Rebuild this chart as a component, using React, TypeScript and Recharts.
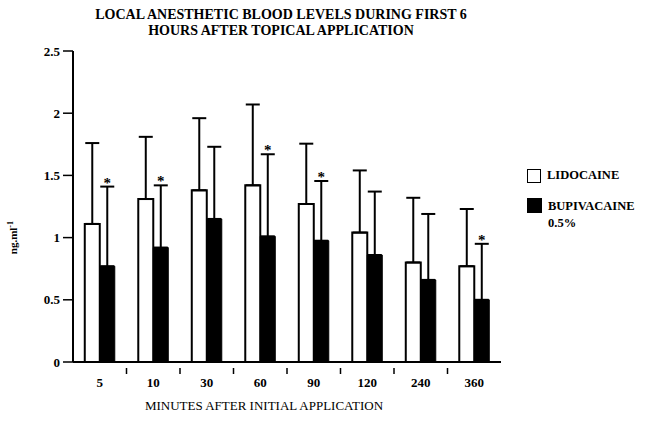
import React from "react";
import { BarChart, Bar, XAxis, YAxis, ErrorBar, LabelList } from "recharts";

const minutes = ["5", "10", "30", "60", "90", "120", "240", "360"];
const lidocaine = [1.11, 1.31, 1.38, 1.42, 1.27, 1.04, 0.8, 0.77];
const lidocaineSD = [0.65, 0.5, 0.58, 0.65, 0.485, 0.5, 0.52, 0.46];
const bupivacaine = [0.77, 0.92, 1.15, 1.01, 0.975, 0.86, 0.66, 0.5];
const bupivacaineSD = [0.64, 0.5, 0.58, 0.66, 0.48, 0.51, 0.53, 0.45];
const significant = [true, true, false, true, true, false, false, true];
const yTicks = [0, 0.5, 1, 1.5, 2, 2.5];

const data = minutes.map((m, i) => ({
  min: m,
  lido: lidocaine[i],
  lidoErr: [0, lidocaineSD[i]],
  bupi: bupivacaine[i],
  bupiErr: [0, bupivacaineSD[i]],
}));

const W = 649;
const H = 423;
const M = { top: 51, right: 148, bottom: 31, left: 0 };
const Y_W = 73;
const X_H = 30;
const PLOT_W = W - M.left - M.right - Y_W;
const FONT = "'Liberation Serif', 'Times New Roman', serif";

const XTick = (props: any) => {
  const { x, y, payload, index } = props;
  const band = PLOT_W / minutes.length;
  return (
    <g>
      <text x={x} y={y + 17} textAnchor="middle" fontFamily={FONT} fontWeight="bold" fontSize={13} fill="#000">
        {payload.value}
      </text>
      {index < minutes.length - 1 && (
        <line x1={x + band / 2} x2={x + band / 2} y1={y - 2} y2={y + 4} stroke="#000" strokeWidth={1.5} />
      )}
    </g>
  );
};

const Star = (props: any) => {
  const { x, y, width, height, value, index } = props;
  if (!significant[index]) return null;
  const pxPerUnit = height / value;
  const top = y - bupivacaineSD[index] * pxPerUnit;
  return (
    <text x={x + width / 2} y={top + 1} textAnchor="middle" fontFamily={FONT} fontWeight="bold" fontSize={15} fill="#000" stroke="none">
      *
    </text>
  );
};

const YLabel = (props: any) => {
  const vb = props.viewBox;
  const cx = 17;
  const cy = vb.y + vb.height * 0.6;
  return (
    <text x={cx} y={cy} transform={`rotate(-90 ${cx} ${cy})`} textAnchor="middle" fontFamily={FONT} fontWeight="bold" fontSize={11} fill="#000">
      ng.ml
      <tspan dy={-4} fontSize={8}>-1</tspan>
    </text>
  );
};

const LegendBox = () => (
  <div style={{ position: "absolute", left: 527, top: 167, width: 122, fontFamily: FONT, fontWeight: "bold", fontSize: 12.5, color: "#000", lineHeight: "17px" }}>
    <div style={{ display: "flex", alignItems: "center", marginBottom: 14 }}>
      <span style={{ display: "inline-block", width: 12, height: 12, border: "1.5px solid #000", background: "#fff", marginRight: 6 }} />
      LIDOCAINE
    </div>
    <div style={{ display: "flex", alignItems: "flex-start" }}>
      <span style={{ display: "inline-block", width: 15, height: 15, background: "#000", marginRight: 6 }} />
      <span>
        BUPIVACAINE
        <br />
        0.5%
      </span>
    </div>
  </div>
);

export default function App() {
  return (
    <div style={{ position: "absolute", left: 0, top: 0, width: W, height: H, background: "#fff" }}>
      <div style={{ position: "absolute", left: 0, top: 7, width: 562, textAlign: "center", fontFamily: FONT, fontWeight: "bold", fontSize: 14, lineHeight: "16px", color: "#000" }}>
        LOCAL ANESTHETIC BLOOD LEVELS DURING FIRST 6
        <br />
        HOURS AFTER TOPICAL APPLICATION
      </div>
      <BarChart width={W} height={H} data={data} margin={M} barCategoryGap="22%" barGap={0}>
        <XAxis dataKey="min" height={X_H} axisLine={{ stroke: "#000", strokeWidth: 2 }} tickLine={false} tick={<XTick />} interval={0} />
        <XAxis xAxisId="top" dataKey="min" orientation="top" height={0} axisLine={{ stroke: "#000", strokeWidth: 2 }} tick={false} tickLine={false} />
        <YAxis
          yAxisId="l"
          width={Y_W}
          domain={[0, 2.5]}
          ticks={yTicks}
          tickSize={10}
          tickMargin={3}
          axisLine={{ stroke: "#000", strokeWidth: 2 }}
          tickLine={{ stroke: "#000", strokeWidth: 1.5 }}
          tick={{ fontFamily: FONT, fontWeight: "bold", fontSize: 13, fill: "#000" }}
          label={<YLabel />}
        />
        <YAxis yAxisId="r" orientation="right" width={0} domain={[0, 2.5]} tick={false} tickLine={false} axisLine={{ stroke: "#000", strokeWidth: 2 }} />
        <Bar yAxisId="l" dataKey="lido" name="LIDOCAINE" fill="#fff" stroke="#000" strokeWidth={2} isAnimationActive={false}>
          <ErrorBar dataKey="lidoErr" width={7} stroke="#000" strokeWidth={2} direction="y" />
        </Bar>
        <Bar yAxisId="l" dataKey="bupi" name="BUPIVACAINE 0.5%" fill="#000" stroke="#000" strokeWidth={1} isAnimationActive={false}>
          <ErrorBar dataKey="bupiErr" width={7} stroke="#000" strokeWidth={2} direction="y" />
          <LabelList dataKey="bupi" content={<Star />} />
        </Bar>
      </BarChart>
      <LegendBox />
      <div style={{ position: "absolute", left: 73, top: 398, width: 382, textAlign: "center", fontFamily: FONT, fontSize: 13, color: "#000" }}>
        MINUTES AFTER INITIAL APPLICATION
      </div>
    </div>
  );
}
